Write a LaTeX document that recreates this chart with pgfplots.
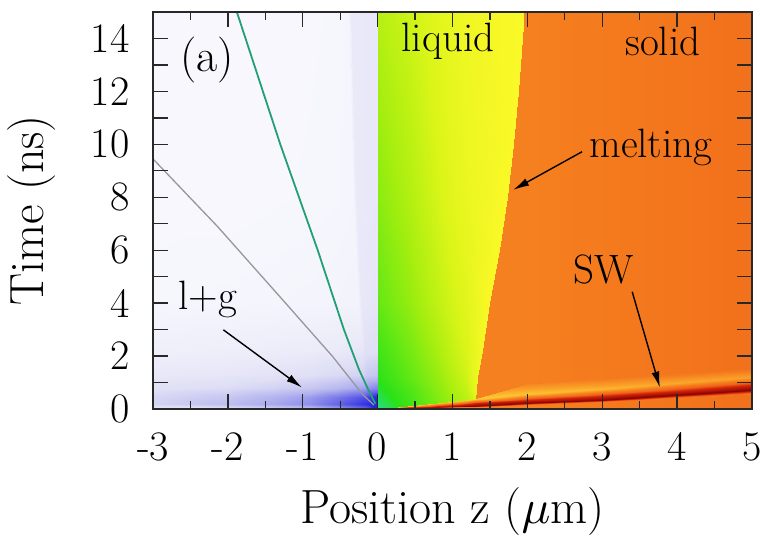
\documentclass[border=0pt]{standalone}
\usepackage{fontspec}
\usepackage{pgfplots}
\pgfplotsset{compat=1.18}
\usetikzlibrary{arrows.meta}
\DeclareFontFamily{OML}{mycmm}{\skewchar\font'177}
\DeclareFontShape{OML}{mycmm}{m}{it}{<->cmmi10}{}
\DeclareSymbolFont{letters}{OML}{mycmm}{m}{it}
\definecolor{gline}{RGB}{35,160,115}
\definecolor{grline}{RGB}{150,150,160}
\definecolor{frame}{RGB}{40,40,40}
\begin{document}
\begin{tikzpicture}
\useasboundingbox (-153pt,-131pt) rectangle (610pt,409pt);
\begin{axis}[
  scale only axis, width=599pt, height=397pt,
  at={(0pt,0pt)}, anchor=south west,
  xmin=-3, xmax=5, ymin=0, ymax=15,
  axis on top,
  axis line style={frame, line width=1.3pt},
  every tick/.style={frame, line width=1.3pt},
  xtick={-3,...,5}, xticklabels={-3,-2,-1,0,1,2,3,4,5},
  minor x tick num=1,
  ytick={0,...,14}, yticklabels={0,,2,,4,,6,,8,,10,,12,,14},
  tick align=inside,
  major tick length=15pt, minor tick length=8pt,
  tick label style={font=\fontsize{42}{42}\selectfont},
  yticklabel style={xshift=-20pt},
  xticklabel style={yshift=-20pt},
  xlabel={Position z ($\mu$m)},
  ylabel={Time (ns)},
  label style={font=\fontsize{48}{48}\selectfont},
  xlabel style={at={(axis description cs:0.5,-0.259)}, anchor=center},
  ylabel style={at={(axis description cs:-0.202,0.5)}, anchor=center},
  colormap={den}{
    rgb255(0pt)=(249,249,254);
    rgb255(1pt)=(238,238,250);
    rgb255(2pt)=(222,222,245);
    rgb255(4pt)=(175,175,238);
    rgb255(6pt)=(110,110,232);
    rgb255(8pt)=(35,35,225);
    rgb255(10pt)=(40,215,190);
    rgb255(11pt)=(40,225,25);
    rgb255(12pt)=(100,232,20);
    rgb255(13pt)=(165,238,15);
    rgb255(14pt)=(220,245,25);
    rgb255(15pt)=(250,248,40);
    rgb255(16pt)=(252,205,50);
    rgb255(17pt)=(250,160,40);
    rgb255(18pt)=(245,125,30);
    rgb255(19pt)=(238,100,25);
    rgb255(20pt)=(215,35,10);
    rgb255(21pt)=(130,5,0)
  },
  point meta min=0, point meta max=21,
]
% solid background
\addplot[surf, shader=interp, point meta=explicit, mesh/cols=4] table[meta=c] {
x y c
0 0 17.9
2 0 17.9
3.5 0 18.2
5 0 18.5

0 15 17.9
2 15 17.9
3.5 15 18.2
5 15 18.5
};
% gas region
\addplot[surf, shader=interp, point meta=explicit, mesh/cols=9] table[meta=c] {
x y c
-3 0 1.2
-2 0 1.6
-1.4 0 2.2
-0.9 0 3.0
-0.55 0 4.2
-0.16 0 6.0
-0.12 0 6.6
-0.05 0 7.8
0 0 8.0

-3 0.2 2.4
-2 0.2 3.4
-1.4 0.2 4.2
-0.9 0.2 5.0
-0.55 0.2 6.2
-0.16 0.2 7.6
-0.12 0.2 7.8
-0.05 0.2 8.0
0 0.2 8.0

-3 0.45 2.3
-2 0.45 3.0
-1.4 0.45 3.8
-0.9 0.45 4.6
-0.55 0.45 5.6
-0.17 0.45 6.8
-0.13 0.45 7.2
-0.05 0.45 7.8
0 0.45 8.0

-3 0.8 1.8
-2 0.8 2.1
-1.4 0.8 2.5
-0.9 0.8 3.0
-0.55 0.8 3.6
-0.18 0.8 4.4
-0.14 0.8 4.8
-0.05 0.8 5.2
0 0.8 5.4

-3 1.3 1.4
-2 1.3 1.5
-1.4 1.3 1.7
-0.9 1.3 1.9
-0.55 1.3 2.2
-0.19 1.3 2.5
-0.15 1.3 2.8
-0.05 1.3 3.0
0 1.3 3.2

-3 2.2 0.9
-2 2.2 1.0
-1.4 2.2 1.1
-0.9 2.2 1.2
-0.55 2.2 1.3
-0.21 2.2 1.5
-0.17 2.2 1.8
-0.05 2.2 1.9
0 2.2 2.0

-3 4 0.3
-2 4 0.35
-1.4 4 0.4
-0.9 4 0.45
-0.55 4 0.5
-0.26 4 0.6
-0.22 4 1.4
-0.05 4 1.5
0 4 1.5

-3 8 0.15
-2 8 0.15
-1.4 8 0.2
-0.9 8 0.25
-0.55 8 0.3
-0.33 8 0.4
-0.29 8 1.3
-0.05 8 1.4
0 8 1.4

-3 15 0.15
-2 15 0.15
-1.4 15 0.15
-0.9 15 0.2
-0.55 15 0.25
-0.40 15 0.35
-0.36 15 1.3
-0.05 15 1.4
0 15 1.4
};
% liquid region
\addplot[surf, shader=interp, point meta=explicit, mesh/cols=5] table[meta=c] {
x y c
0 0.006 10.3
0.4 0.12 11.3
0.8 0.24 12.4
1.2 0.33 13.4
1.3 0.36 13.9

0 0.7 10.8
0.4 0.7 11.6
0.8 0.7 12.6
1.2 0.7 13.6
1.31 0.7 14.4

0 1.2 11.1
0.4 1.2 11.9
0.8 1.2 12.8
1.2 1.2 13.8
1.33 1.2 14.6

0 2.2 11.4
0.4 2.2 12.2
0.8 2.2 13.1
1.2 2.2 14.0
1.39 2.2 14.8

0 4 12.0
0.4 4 12.7
0.8 4 13.5
1.2 4 14.2
1.49 4 15.0

0 6 12.3
0.4 6 12.95
0.8 6 13.7
1.2 6 14.35
1.62 6 15.0

0 8 12.6
0.4 8 13.2
0.8 8 13.9
1.2 8 14.5
1.73 8 15.0

0 10 12.8
0.4 10 13.35
0.8 10 14.0
1.2 10 14.55
1.81 10 15.0

0 12 13.0
0.4 12 13.5
0.8 12 14.1
1.2 12 14.6
1.88 12 15.0

0 15 13.3
0.4 15 13.7
0.8 15 14.2
1.2 15 14.7
1.95 15 15.0
};
% shock wave band
\addplot[surf, shader=interp, point meta=explicit, mesh/cols=9] table[meta=c] {
x y c
0 0 18
0.4 0.01 18
0.8 0.04 18
1.2 0.07 18
1.3 0.08 18
2 0.16 18
3 0.27 18
4 0.42 18
5 0.58 18

0 0 19
0.4 0.03 20
0.8 0.07 20.6
1.2 0.11 21
1.3 0.12 21
2 0.22 21
3 0.34 21
4 0.52 21
5 0.70 21

0 0.003 18.5
0.4 0.06 19.5
0.8 0.13 20
1.2 0.19 20
1.3 0.21 20
2 0.33 20
3 0.48 20
4 0.68 20
5 0.90 20

0 0.006 16
0.4 0.12 16
0.8 0.24 16
1.2 0.33 16
1.3 0.36 16
2 0.55 16.2
3 0.75 16.5
4 0.98 16.8
5 1.20 17

0 0.006 16
0.4 0.12 16
0.8 0.24 16
1.2 0.33 16
1.3 0.36 16
2 0.95 17.7
3 1.15 18.0
4 1.35 18.3
5 1.55 18.5
};
% ablation lines
\addplot[grline, line width=1.3pt] coordinates {(-3,9.45) (-2.14,6.9) (-1.27,4.13) (-0.6,1.98) (-0.2,0.55) (-0.05,0.15)};
\addplot[gline, line width=1.8pt] coordinates {(-1.88,15) (-1.30,10) (-0.80,6) (-0.45,3) (-0.25,1.5) (-0.12,0.7) (-0.03,0.2)};
% annotations
\node[font=\fontsize{46}{46}\selectfont] at (axis cs:-2.28,13.2) {(a)};
\node[font=\fontsize{41}{41}\selectfont] at (axis cs:0.94,13.9) {liquid};
\node[font=\fontsize{41}{41}\selectfont] at (axis cs:3.81,13.9) {solid};
\node[font=\fontsize{41}{41}\selectfont] at (axis cs:3.65,9.87) {melting};
\node[font=\fontsize{41}{41}\selectfont] at (axis cs:3.02,5.26) {SW};
\node[font=\fontsize{41}{41}\selectfont] at (axis cs:-2.27,4.13) {l+g};
\draw[-{Latex[length=16pt,width=8pt]}, line width=1.4pt] (axis cs:2.73,9.72) -- (axis cs:1.81,8.28);
\draw[-{Latex[length=16pt,width=8pt]}, line width=1.4pt] (axis cs:3.40,4.43) -- (axis cs:3.77,0.81);
\draw[-{Latex[length=16pt,width=8pt]}, line width=1.4pt] (axis cs:-2.06,2.99) -- (axis cs:-1.01,0.81);
\end{axis}
\end{tikzpicture}
\end{document}
